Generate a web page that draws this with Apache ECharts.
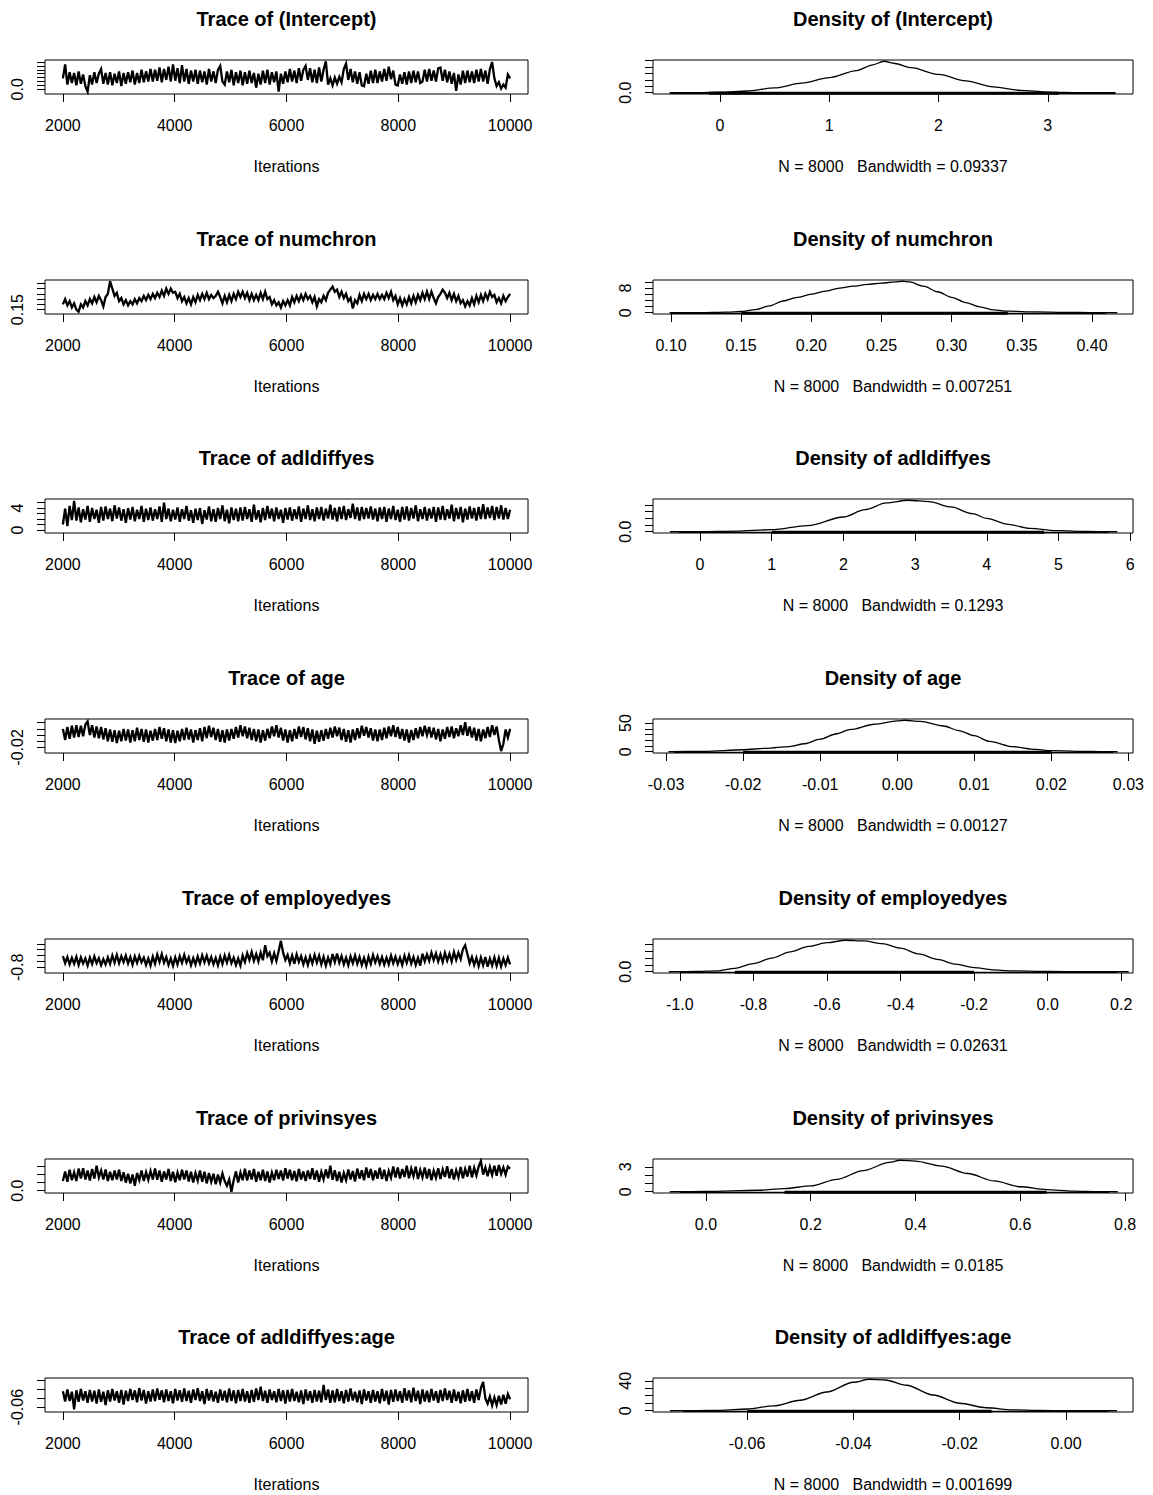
<!DOCTYPE html>
<html><head><meta charset="utf-8">
<script src="https://cdn.jsdelivr.net/npm/echarts@6/dist/echarts.min.js"></script>
<style>html,body{margin:0;padding:0;background:#fff}#c{width:1153px;height:1495px}</style>
</head><body><div id="c"></div>
<script>
// ---------------- data ----------------
const params = ['(Intercept)','numchron','adldiffyes','age','employedyes','privinsyes','adldiffyes:age'];
const bandwidths = ['0.09337','0.007251','0.1293','0.00127','0.02631','0.0185','0.001699'];
const nSamples = 8000;
const iterStart = 2000, iterEnd = 10000;
const iterTicks = [2000,4000,6000,8000,10000];
const iterTickLabels = ['2000','4000','6000','8000','10000'];

// trace values (evenly spaced over the iterations)
const trace_intercept = [
1.4,3.2,0.6,2.2,0.8,2.1,0.5,2.3,0.7,1.9,0.4,-0.3,1.8,0.6,2.2,0.8,2.0,2.6,0.7,2.1,
0.6,2.2,0.5,2.0,0.8,2.3,0.4,2.1,0.7,2.2,0.9,2.4,0.6,2.1,0.8,2.5,0.9,2.3,1.0,2.6,
1.0,2.5,1.1,2.8,0.9,2.6,1.2,2.9,1.0,3.2,1.1,2.7,0.8,3.1,1.0,2.6,0.7,2.4,1.0,2.5,
0.7,2.4,0.9,2.3,0.6,2.6,1.0,2.3,0.8,2.5,3.0,1.0,0.6,2.3,0.9,2.5,0.5,2.2,0.8,2.4,
0.5,2.2,0.7,2.4,0.8,2.1,0.2,2.0,0.6,2.4,0.8,2.5,0.6,2.2,0.9,2.3,-0.3,2.0,0.7,2.3,
0.9,2.6,1.0,2.4,0.8,2.7,1.1,2.5,3.0,1.2,2.7,0.9,2.5,0.8,2.8,1.0,2.5,3.6,0.6,1.4,
0.5,1.5,0.7,1.6,0.9,2.6,3.3,1.2,2.6,0.9,2.3,0.7,2.2,0.5,0.4,2.0,0.7,2.4,0.8,2.5,
0.8,2.3,1.0,2.6,1.1,2.9,1.3,2.4,0.6,0.5,1.9,0.7,2.2,0.6,2.3,0.8,2.4,0.9,2.3,0.8,
1.0,2.5,1.0,2.6,1.1,2.4,1.0,2.7,2.8,1.1,2.5,0.9,2.3,0.7,2.1,-0.2,1.9,0.6,2.4,0.8,
2.4,0.9,2.3,0.8,2.5,1.0,2.6,1.0,2.4,0.7,2.6,3.5,1.4,0.4,0.9,0.1,0.6,0.2,1.9,1.4];
const trace_numchron = [
0.20,0.25,0.19,0.23,0.17,0.21,0.15,0.13,0.20,0.17,0.23,0.19,0.25,0.21,0.27,0.22,0.28,0.24,0.18,0.27,
0.30,0.42,0.35,0.28,0.31,0.23,0.26,0.20,0.24,0.19,0.23,0.20,0.25,0.21,0.26,0.23,0.28,0.24,0.29,0.25,
0.30,0.26,0.31,0.27,0.33,0.28,0.35,0.30,0.35,0.31,0.32,0.26,0.30,0.23,0.27,0.21,0.26,0.20,0.27,0.22,
0.29,0.24,0.30,0.25,0.31,0.25,0.29,0.26,0.28,0.32,0.27,0.21,0.28,0.22,0.29,0.23,0.30,0.25,0.32,0.27,
0.32,0.26,0.31,0.24,0.30,0.24,0.29,0.24,0.31,0.25,0.32,0.25,0.27,0.20,0.24,0.19,0.22,0.17,0.23,0.19,
0.24,0.19,0.27,0.22,0.28,0.23,0.29,0.24,0.30,0.25,0.28,0.22,0.27,0.18,0.25,0.22,0.28,0.24,0.31,0.34,
0.37,0.32,0.34,0.27,0.32,0.26,0.30,0.23,0.26,0.16,0.24,0.21,0.29,0.23,0.30,0.25,0.30,0.24,0.29,0.25,
0.30,0.25,0.29,0.25,0.31,0.26,0.32,0.24,0.28,0.20,0.26,0.19,0.25,0.20,0.27,0.21,0.28,0.22,0.29,0.24,
0.31,0.25,0.32,0.25,0.32,0.26,0.21,0.27,0.30,0.34,0.31,0.26,0.31,0.24,0.30,0.23,0.28,0.21,0.24,0.18,
0.23,0.19,0.26,0.20,0.28,0.22,0.29,0.23,0.30,0.25,0.32,0.27,0.29,0.22,0.26,0.21,0.28,0.23,0.27,0.30];
const trace_adldiffyes = [
1.0,3.9,0.7,4.4,1.8,5.3,1.7,4.1,1.4,3.8,1.9,4.4,1.5,4.0,2.0,3.7,1.3,4.2,1.7,4.3,
2.0,3.9,1.6,4.5,2.1,4.1,1.7,3.8,1.3,4.0,1.9,4.2,1.6,3.7,2.0,4.4,1.5,3.9,1.8,4.1,
1.7,3.8,2.0,4.3,1.5,5.0,2.0,3.9,1.6,3.7,1.9,4.1,1.5,3.8,2.0,4.4,1.7,3.6,1.3,3.9,
1.8,4.0,1.1,3.6,1.9,4.3,1.6,3.8,1.5,4.0,2.0,4.5,1.6,3.7,1.2,4.1,1.8,3.9,1.6,4.1,
1.7,4.2,2.0,3.8,1.5,4.6,1.9,3.6,1.4,4.0,1.8,4.4,2.1,3.9,1.6,4.1,2.0,3.7,1.3,4.0,
1.9,4.1,1.7,3.8,2.0,4.3,1.5,3.9,2.0,4.5,1.8,3.8,1.6,4.1,2.0,4.2,1.7,3.9,2.1,4.6,
1.9,4.0,1.6,4.2,2.0,4.4,1.8,3.8,2.2,4.8,2.0,4.1,1.7,4.2,2.0,4.0,2.1,4.3,1.9,3.9,
1.6,4.1,2.0,4.2,1.5,3.9,2.0,4.4,1.8,3.7,1.5,4.2,1.9,4.3,1.7,4.0,2.1,4.5,1.6,3.8,
2.0,4.2,1.7,3.9,2.1,4.2,1.5,4.1,1.9,4.4,1.8,3.8,2.1,4.6,1.6,4.0,2.0,4.2,1.4,3.9,
1.9,4.3,2.1,4.0,1.7,4.2,2.0,4.7,2.0,4.1,2.2,4.4,1.8,4.2,2.1,4.5,1.9,4.0,2.0,3.7];
const trace_age = [
0.010,-0.008,0.013,-0.006,0.015,-0.004,0.016,-0.003,0.015,-0.002,0.017,0.022,0.000,0.016,-0.004,0.014,-0.005,0.013,-0.007,0.011,
-0.010,0.009,-0.011,0.008,-0.013,0.007,-0.010,0.010,-0.009,0.009,-0.012,0.008,-0.010,0.012,-0.008,0.010,-0.011,0.009,-0.012,0.007,
-0.009,0.010,-0.008,0.013,-0.006,0.011,-0.010,0.009,-0.012,0.008,-0.013,0.007,-0.010,0.010,-0.008,0.012,-0.007,0.009,-0.012,0.008,
-0.008,0.011,-0.010,0.013,-0.005,0.015,-0.003,0.012,-0.008,0.010,-0.011,0.008,-0.012,0.009,-0.009,0.010,-0.006,0.013,-0.004,0.016,
-0.002,0.014,-0.005,0.012,-0.008,0.010,-0.010,0.009,-0.012,0.008,-0.009,0.010,-0.005,0.014,-0.002,0.016,-0.004,0.012,-0.009,0.009,
-0.012,0.008,-0.010,0.010,-0.006,0.014,-0.003,0.013,-0.007,0.011,-0.010,0.009,-0.014,0.007,-0.011,0.008,-0.009,0.010,-0.006,0.012,
-0.004,0.014,-0.002,0.012,-0.008,0.010,-0.011,0.008,-0.012,0.009,-0.008,0.011,-0.005,0.015,-0.001,0.013,-0.004,0.011,-0.009,0.009,
-0.010,0.009,-0.008,0.012,-0.005,0.014,-0.002,0.016,-0.003,0.013,-0.006,0.010,-0.009,0.009,-0.012,0.008,-0.008,0.011,-0.005,0.013,
-0.002,0.015,0.000,0.013,-0.004,0.012,-0.007,0.010,-0.010,0.009,-0.006,0.013,-0.003,0.014,-0.005,0.011,-0.002,0.016,0.000,0.021,
-0.001,0.014,-0.004,0.012,-0.009,0.010,-0.010,0.009,-0.005,0.013,-0.003,0.016,0.000,0.014,-0.008,-0.026,-0.014,0.009,-0.004,0.010];
const trace_employedyes = [
-0.42,-0.66,-0.45,-0.70,-0.48,-0.68,-0.44,-0.72,-0.46,-0.67,-0.50,-0.74,-0.47,-0.69,-0.43,-0.66,-0.49,-0.73,-0.52,-0.70,
-0.46,-0.68,-0.40,-0.64,-0.38,-0.66,-0.42,-0.62,-0.40,-0.67,-0.45,-0.71,-0.43,-0.65,-0.41,-0.63,-0.47,-0.72,-0.50,-0.74,
-0.44,-0.68,-0.37,-0.62,-0.35,-0.64,-0.45,-0.72,-0.50,-0.75,-0.46,-0.70,-0.42,-0.65,-0.38,-0.64,-0.46,-0.73,-0.49,-0.71,
-0.43,-0.67,-0.39,-0.63,-0.40,-0.66,-0.45,-0.70,-0.48,-0.73,-0.44,-0.69,-0.40,-0.64,-0.38,-0.66,-0.47,-0.72,-0.50,-0.74,
-0.40,-0.62,-0.32,-0.55,-0.28,-0.58,-0.35,-0.60,-0.30,-0.56,-0.05,-0.42,-0.30,-0.60,-0.32,-0.58,-0.25,0.10,-0.30,-0.55,
-0.38,-0.66,-0.40,-0.68,-0.36,-0.62,-0.42,-0.70,-0.46,-0.72,-0.43,-0.67,-0.38,-0.64,-0.40,-0.70,-0.44,-0.74,-0.47,-0.69,
-0.35,-0.62,-0.33,-0.64,-0.42,-0.70,-0.47,-0.73,-0.43,-0.66,-0.40,-0.68,-0.45,-0.72,-0.48,-0.75,-0.44,-0.68,-0.38,-0.63,
-0.42,-0.68,-0.45,-0.71,-0.47,-0.70,-0.40,-0.66,-0.44,-0.69,-0.47,-0.72,-0.41,-0.65,-0.39,-0.67,-0.45,-0.72,-0.48,-0.74,
-0.34,-0.60,-0.36,-0.58,-0.30,-0.56,-0.33,-0.60,-0.36,-0.62,-0.31,-0.57,-0.34,-0.60,-0.28,-0.55,-0.30,-0.52,-0.18,-0.05,
-0.35,-0.66,-0.45,-0.72,-0.48,-0.76,-0.47,-0.73,-0.45,-0.78,-0.50,-0.74,-0.46,-0.75,-0.48,-0.77,-0.50,-0.72,-0.47,-0.70];
const trace_privinsyes = [
0.24,0.48,0.22,0.52,0.26,0.46,0.24,0.55,0.30,0.56,0.28,0.50,0.25,0.54,0.30,0.62,0.33,0.50,0.28,0.53,
0.24,0.47,0.26,0.50,0.28,0.52,0.24,0.46,0.20,0.42,0.18,0.40,0.12,0.44,0.26,0.50,0.24,0.46,0.27,0.49,
0.28,0.55,0.27,0.50,0.22,0.48,0.28,0.54,0.24,0.47,0.21,0.45,0.26,0.52,0.28,0.50,0.23,0.47,0.20,0.44,
0.25,0.50,0.22,0.47,0.18,0.44,0.22,0.42,0.16,0.40,0.20,0.43,0.24,0.12,0.28,-0.03,0.26,0.48,0.20,0.45,
0.26,0.55,0.25,0.50,0.28,0.54,0.22,0.47,0.26,0.52,0.24,0.48,0.20,0.45,0.26,0.52,0.29,0.50,0.25,0.56,
0.30,0.52,0.26,0.49,0.23,0.54,0.28,0.48,0.24,0.50,0.29,0.56,0.27,0.50,0.22,0.47,0.28,0.53,0.31,0.62,
0.27,0.51,0.24,0.47,0.20,0.44,0.26,0.53,0.28,0.49,0.23,0.55,0.30,0.51,0.26,0.58,0.32,0.54,0.26,0.50,
0.30,0.57,0.29,0.52,0.24,0.49,0.32,0.60,0.33,0.58,0.30,0.54,0.34,0.62,0.31,0.55,0.36,0.60,0.29,0.52,
0.33,0.58,0.30,0.54,0.26,0.50,0.32,0.56,0.29,0.53,0.34,0.61,0.31,0.54,0.28,0.51,0.33,0.59,0.31,0.54,
0.35,0.62,0.33,0.57,0.38,0.60,0.74,0.40,0.58,0.36,0.59,0.39,0.62,0.37,0.64,0.42,0.58,0.40,0.60,0.55];
const trace_adlage = [
-0.024,-0.047,-0.020,-0.046,-0.025,-0.065,-0.022,-0.048,-0.019,-0.045,-0.024,-0.050,-0.021,-0.047,-0.023,-0.052,-0.020,-0.048,-0.025,-0.055,
-0.022,-0.047,-0.019,-0.045,-0.024,-0.050,-0.021,-0.054,-0.023,-0.046,-0.019,-0.044,-0.022,-0.049,-0.017,-0.045,-0.021,-0.052,-0.024,-0.047,
-0.020,-0.046,-0.018,-0.043,-0.022,-0.049,-0.020,-0.046,-0.024,-0.051,-0.019,-0.045,-0.022,-0.048,-0.018,-0.046,-0.023,-0.050,-0.020,-0.044,
-0.017,-0.046,-0.024,-0.053,-0.019,-0.045,-0.022,-0.047,-0.025,-0.050,-0.020,-0.045,-0.023,-0.049,-0.018,-0.046,-0.022,-0.051,-0.021,-0.046,
-0.019,-0.047,-0.024,-0.050,-0.021,-0.048,-0.018,-0.044,-0.014,-0.046,-0.023,-0.050,-0.020,-0.044,-0.024,-0.049,-0.019,-0.046,-0.022,-0.052,
-0.021,-0.047,-0.019,-0.046,-0.025,-0.049,-0.022,-0.053,-0.020,-0.045,-0.024,-0.050,-0.021,-0.047,-0.023,-0.049,-0.010,-0.044,-0.020,-0.050,
-0.022,-0.049,-0.019,-0.046,-0.024,-0.051,-0.021,-0.047,-0.018,-0.045,-0.025,-0.049,-0.022,-0.053,-0.020,-0.045,-0.024,-0.050,-0.021,-0.047,
-0.024,-0.051,-0.019,-0.046,-0.023,-0.054,-0.021,-0.048,-0.020,-0.046,-0.024,-0.050,-0.017,-0.045,-0.022,-0.049,-0.016,-0.046,-0.023,-0.053,
-0.020,-0.047,-0.023,-0.049,-0.019,-0.045,-0.024,-0.050,-0.021,-0.046,-0.018,-0.044,-0.023,-0.050,-0.020,-0.046,-0.025,-0.051,-0.022,-0.048,
-0.019,-0.046,-0.024,-0.050,-0.020,-0.044,-0.017,-0.003,-0.040,-0.052,-0.036,-0.056,-0.038,-0.055,-0.034,-0.054,-0.032,-0.052,-0.030,-0.042];

// density curves
const densX_intercept = [-0.46,-0.2,0,0.25,0.5,0.75,1.0,1.25,1.4,1.5,1.6,1.75,2.0,2.25,2.5,2.75,3.0,3.3,3.62];
const densY_intercept = [0,0.003,0.016,0.055,0.15,0.30,0.47,0.69,0.87,0.98,0.91,0.78,0.57,0.37,0.185,0.075,0.022,0.005,0];
const densX_numchron = [0.099,0.12,0.14,0.15,0.16,0.17,0.18,0.19,0.20,0.21,0.22,0.23,0.24,0.25,0.26,0.265,0.27,0.28,0.29,0.30,0.31,0.32,0.33,0.34,0.36,0.38,0.40,0.418];
const densY_numchron = [0,0.05,0.2,0.4,1.0,2.2,3.8,5.0,6.0,7.0,8.0,8.6,9.2,9.6,10.0,10.2,10.0,8.6,6.8,5.0,3.3,1.9,0.9,0.5,0.25,0.12,0.05,0];
const densX_adldiffyes = [-0.42,0,0.5,1.0,1.5,2.0,2.3,2.6,2.9,3.2,3.5,3.8,4.0,4.3,4.6,5.0,5.4,5.82];
const densY_adldiffyes = [0,0.003,0.01,0.03,0.09,0.22,0.33,0.43,0.47,0.45,0.37,0.27,0.2,0.11,0.05,0.015,0.004,0];
const densX_age = [-0.0297,-0.025,-0.02,-0.017,-0.014,-0.012,-0.010,-0.008,-0.006,-0.003,0,0.001,0.003,0.006,0.008,0.010,0.012,0.015,0.018,0.020,0.025,0.0286];
const densY_age = [0,0.6,3.5,6,9,14,22,31,39,48,54,55,53,45,37,28,18,9,4,2,0.4,0];
const densX_employedyes = [-1.03,-0.95,-0.9,-0.85,-0.8,-0.75,-0.7,-0.65,-0.6,-0.55,-0.5,-0.45,-0.4,-0.35,-0.3,-0.25,-0.2,-0.15,-0.1,0.0,0.1,0.22];
const densY_employedyes = [0,0.02,0.06,0.25,0.6,1.0,1.45,1.85,2.12,2.3,2.25,2.05,1.72,1.3,0.9,0.55,0.3,0.14,0.07,0.02,0.008,0];
const densX_privinsyes = [-0.069,0.0,0.1,0.15,0.2,0.25,0.3,0.35,0.37,0.4,0.45,0.5,0.55,0.6,0.65,0.7,0.75,0.786];
const densY_privinsyes = [0,0.03,0.18,0.38,0.7,1.5,2.55,3.55,3.8,3.7,3.1,2.2,1.3,0.6,0.25,0.08,0.02,0];
const densX_adlage = [-0.0745,-0.07,-0.065,-0.06,-0.055,-0.05,-0.045,-0.04,-0.037,-0.034,-0.03,-0.025,-0.02,-0.015,-0.01,-0.005,0.0,0.0096];
const densY_adlage = [0,0.1,0.6,2.3,6.5,14,25,38,42,41,34,21,10,4,1.2,0.3,0.06,0];

// rug extents [min, max] and dense core
const rug_intercept = [-0.46,3.62], rugCore_intercept = [-0.1,3.1];
const rug_numchron = [0.10,0.41], rugCore_numchron = [0.15,0.34];
const rug_adldiffyes = [-0.3,5.7], rugCore_adldiffyes = [1.0,4.8];
const rug_age = [-0.029,0.028], rugCore_age = [-0.02,0.02];
const rug_employedyes = [-1.0,0.19], rugCore_employedyes = [-0.85,-0.2];
const rug_privinsyes = [-0.05,0.77], rugCore_privinsyes = [0.15,0.65];
const rug_adlage = [-0.072,0.008], rugCore_adlage = [-0.06,-0.014];

// trace y-axis ticks and shown labels
const tY_intercept = [0,0.5,1,1.5,2,2.5,3,3.5], tYLab_intercept = [[0],['0.0']];
const tY_numchron = [0.15,0.20,0.25,0.30,0.35,0.40], tYLab_numchron = [[0.15],['0.15']];
const tY_adldiffyes = [0,1,2,3,4,5], tYLab_adldiffyes = [[0,4],['0','4']];
const tY_age = [-0.02,-0.01,0,0.01,0.02], tYLab_age = [[-0.02],['-0.02']];
const tY_employedyes = [-0.8,-0.6,-0.4,-0.2,0], tYLab_employedyes = [[-0.8],['-0.8']];
const tY_privinsyes = [0,0.2,0.4,0.6], tYLab_privinsyes = [[0],['0.0']];
const tY_adlage = [-0.06,-0.04,-0.02,0], tYLab_adlage = [[-0.06],['-0.06']];

// density x-axis ticks and labels
const dX_intercept = [0,1,2,3], dXLab_intercept = ['0','1','2','3'];
const dX_numchron = [0.10,0.15,0.20,0.25,0.30,0.35,0.40], dXLab_numchron = ['0.10','0.15','0.20','0.25','0.30','0.35','0.40'];
const dX_adldiffyes = [0,1,2,3,4,5,6], dXLab_adldiffyes = ['0','1','2','3','4','5','6'];
const dX_age = [-0.03,-0.02,-0.01,0,0.01,0.02,0.03], dXLab_age = ['-0.03','-0.02','-0.01','0.00','0.01','0.02','0.03'];
const dX_employedyes = [-1.0,-0.8,-0.6,-0.4,-0.2,0,0.2], dXLab_employedyes = ['-1.0','-0.8','-0.6','-0.4','-0.2','0.0','0.2'];
const dX_privinsyes = [0,0.2,0.4,0.6,0.8], dXLab_privinsyes = ['0.0','0.2','0.4','0.6','0.8'];
const dX_adlage = [-0.06,-0.04,-0.02,0], dXLab_adlage = ['-0.06','-0.04','-0.02','0.00'];

// density y-axis ticks and shown labels
const dY_intercept = [0,0.2,0.4,0.6,0.8,1.0], dYLab_intercept = [[0],['0.0']];
const dY_numchron = [0,2,4,6,8,10], dYLab_numchron = [[0,8],['0','8']];
const dY_adldiffyes = [0,0.1,0.2,0.3,0.4], dYLab_adldiffyes = [[0],['0.0']];
const dY_age = [0,10,20,30,40,50], dYLab_age = [[0,50],['0','50']];
const dY_employedyes = [0,0.5,1,1.5,2], dYLab_employedyes = [[0],['0.0']];
const dY_privinsyes = [0,1,2,3], dYLab_privinsyes = [[0,3],['0','3']];
const dY_adlage = [0,10,20,30,40], dYLab_adlage = [[0,40],['0','40']];

// ---------------- assembly ----------------
const traces = [trace_intercept,trace_numchron,trace_adldiffyes,trace_age,trace_employedyes,trace_privinsyes,trace_adlage];
const densXs = [densX_intercept,densX_numchron,densX_adldiffyes,densX_age,densX_employedyes,densX_privinsyes,densX_adlage];
const densYs = [densY_intercept,densY_numchron,densY_adldiffyes,densY_age,densY_employedyes,densY_privinsyes,densY_adlage];
const rugs = [rug_intercept,rug_numchron,rug_adldiffyes,rug_age,rug_employedyes,rug_privinsyes,rug_adlage];
const rugCores = [rugCore_intercept,rugCore_numchron,rugCore_adldiffyes,rugCore_age,rugCore_employedyes,rugCore_privinsyes,rugCore_adlage];
const tYs = [tY_intercept,tY_numchron,tY_adldiffyes,tY_age,tY_employedyes,tY_privinsyes,tY_adlage];
const tYLabs = [tYLab_intercept,tYLab_numchron,tYLab_adldiffyes,tYLab_age,tYLab_employedyes,tYLab_privinsyes,tYLab_adlage];
const dXs = [dX_intercept,dX_numchron,dX_adldiffyes,dX_age,dX_employedyes,dX_privinsyes,dX_adlage];
const dXLabs = [dXLab_intercept,dXLab_numchron,dXLab_adldiffyes,dXLab_age,dXLab_employedyes,dXLab_privinsyes,dXLab_adlage];
const dYs = [dY_intercept,dY_numchron,dY_adldiffyes,dY_age,dY_employedyes,dY_privinsyes,dY_adlage];
const dYLabs = [dYLab_intercept,dYLab_numchron,dYLab_adldiffyes,dYLab_age,dYLab_employedyes,dYLab_privinsyes,dYLab_adlage];

// axis extents (R style, 4% padding)
const traceYRange = [[-0.61,3.76],[0.108,0.432],[-0.55,5.65],[-0.029,0.026],[-0.993,0.163],[-0.06,0.79],[-0.0708,0.0058]];
const densXRange = [[-0.613,3.78],[0.0872,0.4292],[-0.656,6.04],[-0.0317,0.0306],[-1.073,0.232],[-0.101,0.815],[-0.0777,0.0126]];
const densYRange = [[-0.039,1.019],[-0.41,10.61],[-0.019,0.489],[-2.2,57.2],[-0.092,2.392],[-0.152,3.952],[-1.68,43.68]];

const FONT = '"Liberation Sans", Arial, Helvetica, sans-serif';
const boxTops = [60,280,499,719,939,1159,1378];
const boxH = 34, leftX = 45, leftW = 483, rightX = 653, rightW = 480;

function fmt(vals, texts) {
  return function (v) {
    for (let k = 0; k < vals.length; k++) if (Math.abs(vals[k] - v) < 1e-9) return texts[k];
    return '';
  };
}
function xAx(g, range, ticks, labs) {
  return { gridIndex: g, type: 'value', min: range[0], max: range[1], position: 'bottom',
    axisLine: { show: false, onZero: false }, splitLine: { show: false },
    axisTick: { show: true, inside: false, length: 8, customValues: ticks, lineStyle: { color: '#000', width: 1 } },
    axisLabel: { customValues: ticks, formatter: fmt(ticks, labs), margin: 23, fontSize: 16, fontFamily: FONT,
      color: '#000', hideOverlap: false, showMinLabel: true, showMaxLabel: true } };
}
function yAx(g, range, ticks, lab) {
  return { gridIndex: g, type: 'value', min: range[0], max: range[1], position: 'left',
    axisLine: { show: false, onZero: false }, splitLine: { show: false },
    axisTick: { show: true, inside: false, length: 8, customValues: ticks, lineStyle: { color: '#000', width: 1 } },
    axisLabel: { customValues: lab[0], formatter: fmt(lab[0], lab[1]), rotate: 90, margin: 20, fontSize: 16,
      fontFamily: FONT, color: '#000', hideOverlap: false, showMinLabel: true, showMaxLabel: true } };
}

const grids = [], xAxes = [], yAxes = [], series = [], graphics = [];
for (let r = 0; r < params.length; r++) {
  const top = boxTops[r];
  // trace panel
  let g = grids.length;
  grids.push({ left: leftX, top: top, width: leftW, height: boxH, show: true, borderColor: '#000', borderWidth: 1,
    backgroundColor: 'transparent', containLabel: false, outerBoundsMode: 'none' });
  xAxes.push(xAx(g, [1680, 10320], iterTicks, iterTickLabels));
  yAxes.push(yAx(g, traceYRange[r], tYs[r], tYLabs[r]));
  const tr = traces[r];
  const step = (iterEnd - iterStart) / (tr.length - 1);
  series.push({ type: 'line', xAxisIndex: g, yAxisIndex: g, data: tr.map((v, i) => [iterStart + i * step, v]),
    symbol: 'none', showSymbol: false, lineStyle: { color: '#000', width: 2.3, join: 'miter' }, silent: true, animation: false });
  graphics.push({ type: 'text', x: leftX + leftW / 2, y: top - 41,
    style: { text: 'Trace of ' + params[r], font: 'bold 20px ' + FONT, fill: '#000', align: 'center', verticalAlign: 'middle' } });
  graphics.push({ type: 'text', x: leftX + leftW / 2, y: top + 106,
    style: { text: 'Iterations', font: '16px ' + FONT, fill: '#000', align: 'center', verticalAlign: 'middle' } });

  // density panel
  g = grids.length;
  grids.push({ left: rightX, top: top, width: rightW, height: boxH, show: true, borderColor: '#000', borderWidth: 1,
    backgroundColor: 'transparent', containLabel: false, outerBoundsMode: 'none' });
  xAxes.push(xAx(g, densXRange[r], dXs[r], dXLabs[r]));
  yAxes.push(yAx(g, densYRange[r], dYs[r], dYLabs[r]));
  const rugY = densYRange[r][0] * 0.5;
  series.push({ type: 'line', xAxisIndex: g, yAxisIndex: g, data: [[rugs[r][0], rugY], [rugs[r][1], rugY]],
    symbol: 'none', showSymbol: false, lineStyle: { color: '#000', width: 1.3 }, silent: true, animation: false });
  series.push({ type: 'line', xAxisIndex: g, yAxisIndex: g, data: [[rugCores[r][0], rugY], [rugCores[r][1], rugY]],
    symbol: 'none', showSymbol: false, lineStyle: { color: '#000', width: 3 }, silent: true, animation: false });
  series.push({ type: 'line', xAxisIndex: g, yAxisIndex: g, data: densXs[r].map((x, i) => [x, densYs[r][i]]),
    smooth: 0.3, smoothMonotone: 'x', symbol: 'none', showSymbol: false, lineStyle: { color: '#000', width: 1.3 },
    silent: true, animation: false });
  graphics.push({ type: 'text', x: rightX + rightW / 2, y: top - 41,
    style: { text: 'Density of ' + params[r], font: 'bold 20px ' + FONT, fill: '#000', align: 'center', verticalAlign: 'middle' } });
  graphics.push({ type: 'text', x: rightX + rightW / 2, y: top + 106,
    style: { text: 'N = ' + nSamples + '   Bandwidth = ' + bandwidths[r], font: '16px ' + FONT, fill: '#000', align: 'center', verticalAlign: 'middle' } });
}

const chart = echarts.init(document.getElementById('c'), null, { renderer: 'svg' });
chart.setOption({
  backgroundColor: '#fff',
  animation: false,
  grid: grids, xAxis: xAxes, yAxis: yAxes, series: series,
  graphic: { elements: graphics }
});
</script>
</body></html>
